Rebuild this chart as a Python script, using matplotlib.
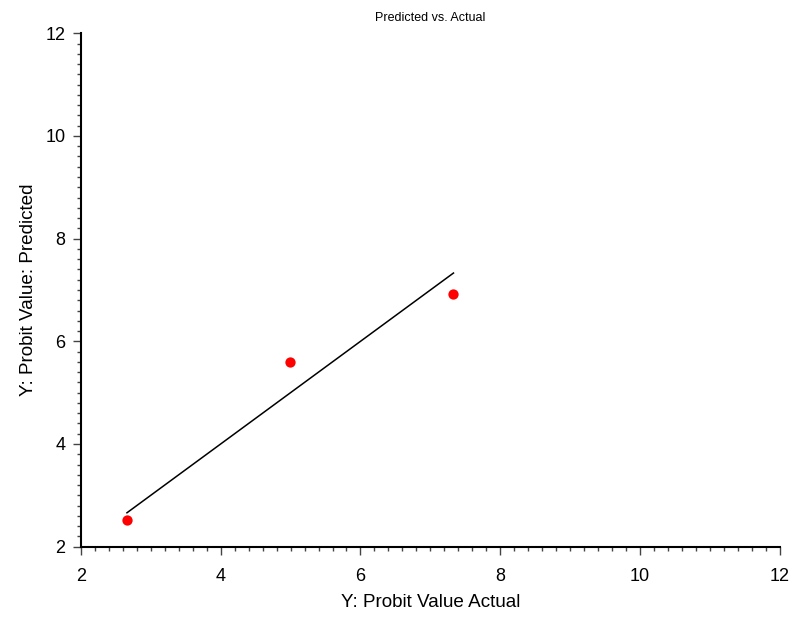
import matplotlib.pyplot as plt
from matplotlib.ticker import MultipleLocator

actual = [2.66, 4.99, 7.32]
predicted = [2.51, 5.60, 6.93]
fit_x = [2.66, 7.33]
fit_y = [2.66, 7.33]
ticks = [2, 4, 6, 8, 10, 12]

plt.rc('font', family=['Liberation Sans', 'DejaVu Sans'])
fig = plt.figure(figsize=(8, 6.28), dpi=100)
ax = fig.add_axes([0.101, 0.1295, 0.874, 0.8175])

ax.plot(fit_x, fit_y, color='black', linewidth=1.1)
ax.scatter(actual, predicted, s=55, color='#ff0000', zorder=3, linewidths=0)

ax.set_xlim(2, 12)
ax.set_ylim(2, 12)
ax.set_xticks(ticks)
ax.set_yticks(ticks)
ax.xaxis.set_minor_locator(MultipleLocator(0.2))
ax.yaxis.set_minor_locator(MultipleLocator(0.2))

ax.spines['top'].set_visible(False)
ax.spines['right'].set_visible(False)
ax.spines['bottom'].set_linewidth(1.5)
ax.spines['left'].set_linewidth(1.5)
ax.tick_params(which='major', length=6, width=1, color='#444444', labelsize=13)
ax.tick_params(which='minor', length=3, width=1, color='#444444')
ax.tick_params(axis='x', which='major', pad=9)
ax.tick_params(axis='y', which='major', pad=5)

ax.set_title('Predicted vs. Actual', fontsize=9, pad=9)
ax.set_xlabel('Y: Probit Value Actual', fontsize=13.6, labelpad=7)
ax.set_ylabel('Y: Probit Value: Predicted', fontsize=13.6, labelpad=6)

plt.savefig('out.png', dpi=100)
plt.close()
